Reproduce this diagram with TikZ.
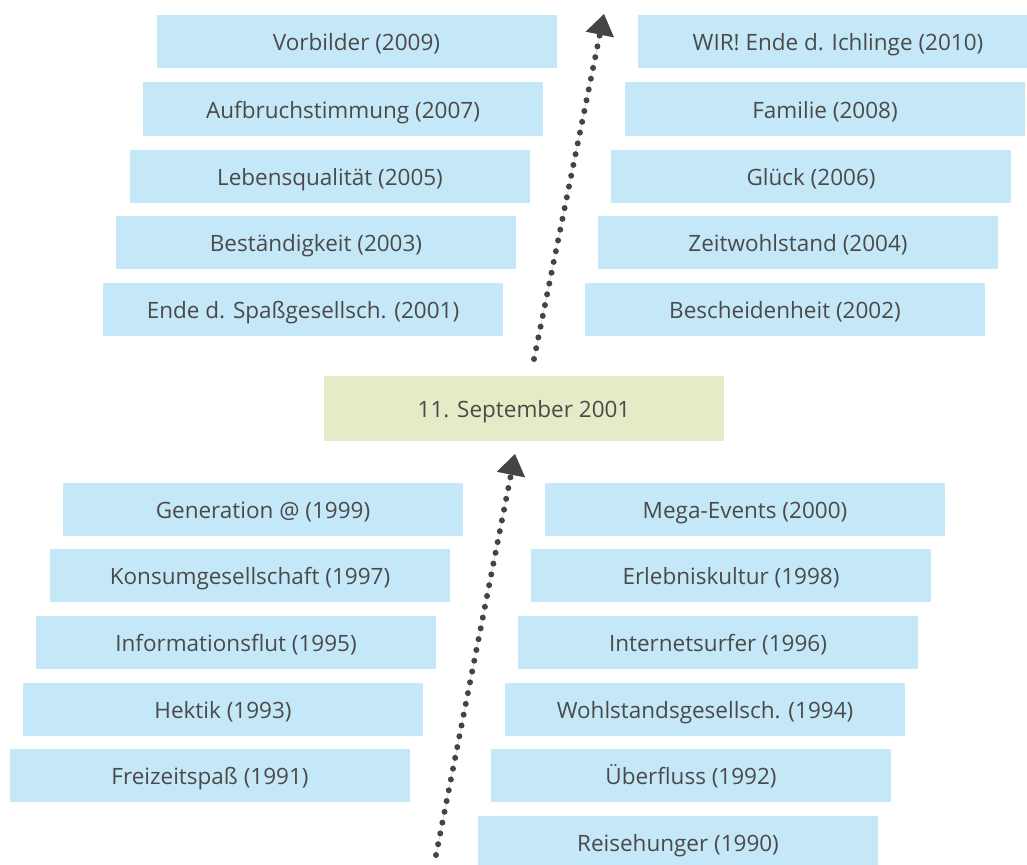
\documentclass[tikz,border=0pt]{standalone}
\usepackage{fontspec}
\setmainfont{Open Sans}
\usetikzlibrary{arrows.meta}
\definecolor{boxblue}{HTML}{C5E8F8}
\definecolor{boxgreen}{HTML}{E5EBC6}
\definecolor{txt}{HTML}{4A4A4A}
\definecolor{arr}{HTML}{444444}
\begin{document}
\begin{tikzpicture}[x=1pt,y=-1pt,
  yearbox/.style={fill=boxblue,draw=none,inner sep=0pt,minimum width=400pt,minimum height=53pt,text height=18pt,text depth=0pt,text=txt,font=\fontsize{22.5}{26}\selectfont},
  eventbox/.style={fill=boxgreen,draw=none,inner sep=0pt,minimum width=400pt,minimum height=65pt,text height=18pt,text depth=0pt,text=txt,font=\fontsize{22.5}{26}\selectfont},
  dotarrow/.style={draw=arr,line width=6pt,line cap=round,dash pattern=on 0pt off 11pt,-{Triangle[length=21pt,width=29pt,line width=0pt]},fill=arr}]
\useasboundingbox (0,0) rectangle (1027,864);
\clip (0,0) rectangle (1027,864);
% upper left
\node[yearbox] (vorb) at (356.5,42) {Vorbilder (2009)};
\node[yearbox] (aufb) at (343,109) {Aufbruchstimmung (2007)};
\node[yearbox] (lebq) at (330,176) {Lebensqualität (2005)};
\node[yearbox] (best) at (316,242) {Beständigkeit (2003)};
\node[yearbox] (ende) at (303,309) {Ende d. Spaßgesellsch. (2001)};
% upper right
\node[yearbox] (wir) at (838,42) {WIR! Ende d. Ichlinge (2010)};
\node[yearbox] (fam) at (825,109) {Familie (2008)};
\node[yearbox] (glck) at (811,176) {Glück (2006)};
\node[yearbox] (zeit) at (798,242) {Zeitwohlstand (2004)};
\node[yearbox] (besch) at (785,309) {Bescheidenheit (2002)};
% center
\node[eventbox] (sept) at (524,408.5) {11. September 2001};
% lower left
\node[yearbox] (gen) at (263,509) {Generation @ (1999)};
\node[yearbox] (kons) at (250,575.5) {Konsumgesellschaft (1997)};
\node[yearbox] (info) at (236,642) {Informationsflut (1995)};
\node[yearbox] (hekt) at (223,709) {Hektik (1993)};
\node[yearbox] (frei) at (210,775.5) {Freizeitspaß (1991)};
% lower right
\node[yearbox] (mega) at (745,509) {Mega-Events (2000)};
\node[yearbox] (erl) at (731,575.5) {Erlebniskultur (1998)};
\node[yearbox] (inet) at (718,642) {Internetsurfer (1996)};
\node[yearbox] (wohl) at (705,709) {Wohlstandsgesellsch. (1994)};
\node[yearbox] (uebf) at (691,775.5) {Überfluss (1992)};
\node[yearbox] (reise) at (678,842) {Reisehunger (1990)};
% arrows
\coordinate (lowstart) at (436,855);
\coordinate (lowend) at (515,454);
\coordinate (upstart) at (534,359);
\coordinate (upend) at (604,14);
\draw[dotarrow] (lowstart) -- (lowend);
\draw[dotarrow] (upstart) -- (upend);
\end{tikzpicture}
\end{document}
